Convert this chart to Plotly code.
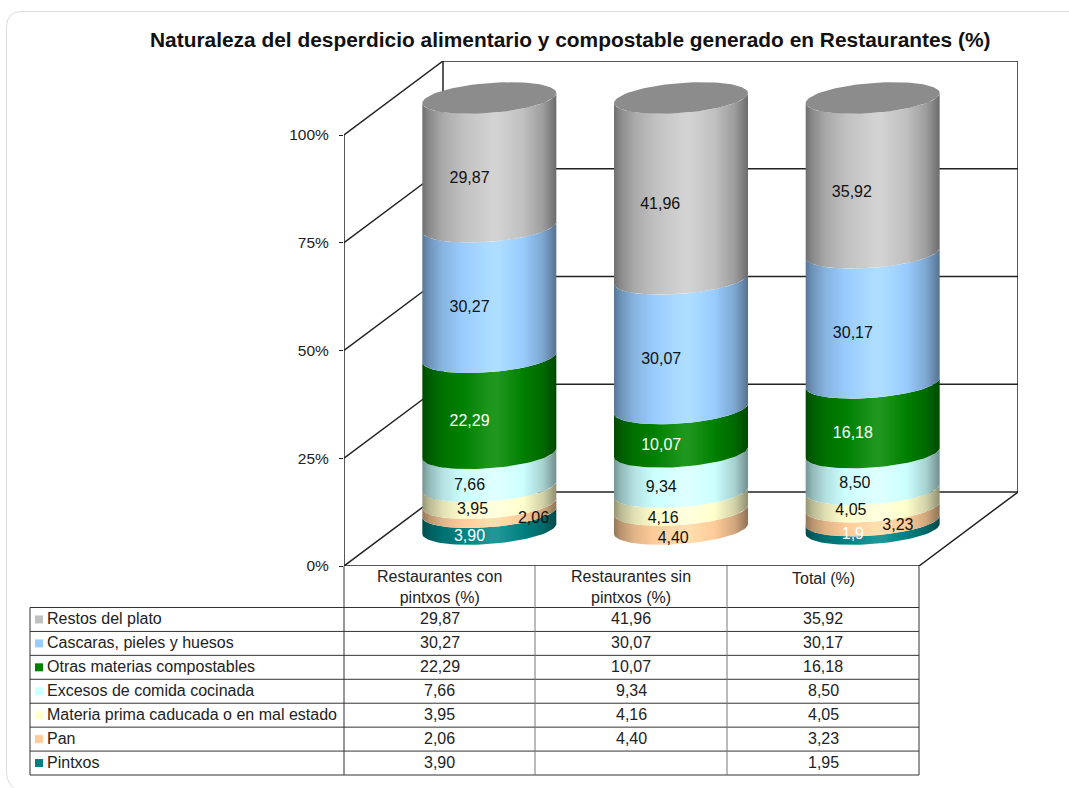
import math
import plotly.graph_objects as go

# ---------- data ----------
columns = ["Restaurantes con<br>pintxos (%)", "Restaurantes sin<br>pintxos (%)", "Total (%)"]
series_names = ["Pintxos", "Pan", "Materia prima caducada o en mal estado",
                "Excesos de comida cocinada", "Otras materias compostables",
                "Cascaras, pieles y huesos", "Restos del plato"]
pintxos = [3.90, 0, 1.95]
pan = [2.06, 4.40, 3.23]
materia = [3.95, 4.16, 4.05]
excesos = [7.66, 9.34, 8.50]
otras = [22.29, 10.07, 16.18]
cascaras = [30.27, 30.07, 30.17]
restos = [29.87, 41.96, 35.92]
series_values = [pintxos, pan, materia, excesos, otras, cascaras, restos]
series_colors = ["#008080", "#FFCC99", "#FFFFCC", "#CCFFFF", "#008000", "#99CCFF", "#C0C0C0"]
label_colors = ["white", "#111", "#111", "#111", "white", "#111", "#111"]
tick_vals = [0, 25, 50, 75, 100]
tick_text = ["0%", "25%", "50%", "75%", "100%"]
title = "Naturaleza del desperdicio alimentario y compostable generado en Restaurantes (%)"

# ---------- layout geometry (pixels of the 1069x788 page) ----------
W, H = 1069, 788
PX0, PY0, PY100 = 344, 566, 135         # front-left axis
COLW = 191.67                           # width of a category
DX, DY = 99, 74                         # depth offset of back wall
CYL_A, CYL_B, CYL_S = 67, 15, 5         # ellipse half-width, half-height, skew
UY = (PY0 - PY100) / 100                # px per percent
X_MAX = (3 * COLW + DX) / COLW
Y_MAX = (PY0 - (PY100 - DY)) / UY
ddx, ddy = DX / COLW, DY / UY
FONT = "Liberation Sans, Arial, sans-serif"
TXT = "#222"

fig = go.Figure()


def line(xs, ys, color="#222", width=1.5):
    fig.add_trace(go.Scatter(x=xs, y=ys, mode="lines", line=dict(color=color, width=width),
                             hoverinfo="skip", showlegend=False))


# walls
for v in tick_vals:
    line([0, ddx], [v, v + ddy])                 # left wall diagonals
    line([ddx, 3 + ddx], [v + ddy, v + ddy])     # back wall horizontals
line([0, 0], [0, 100])
line([ddx, ddx], [ddy, 100 + ddy])
line([3 + ddx, 3 + ddx], [ddy, 100 + ddy])
line([0, 3], [0, 0])
line([3, 3 + ddx], [0, ddy])


def shade(hex_color, k):
    rgb = [int(hex_color[i:i + 2], 16) for i in (1, 3, 5)]
    if k <= 1:
        out = [c * k for c in rgb]
    else:
        out = [c + (255 - c) * (k - 1) * 0.55 + 18 * (k - 1) / 0.15 for c in rgb]
    return "rgb(%d,%d,%d)" % tuple(min(255, round(c)) for c in out)


STOPS = [(0, .58), (.05, .72), (.15, .88), (.3, 1.0), (.52, 1.12), (.56, 1.12), (.75, 1.0), (.9, .82), (1, .56)]


def arc(cx, level, n=48):
    xs, ys = [], []
    for i in range(n + 1):
        t = math.pi + math.pi * i / n
        xs.append(cx + CYL_A / COLW * math.cos(t))
        ys.append(level + ddy / 2 + CYL_B / UY * math.sin(t) + CYL_S / UY * math.cos(t))
    return xs, ys


for col in range(3):
    cx = col + 0.5 + ddx / 2
    level = 0.0
    for s, vals in enumerate(series_values):
        v = vals[col]
        if v <= 0:
            continue
        xa, ya = arc(cx, level)
        xb, yb = arc(cx, level + v)
        fig.add_trace(go.Scatter(
            x=xa + xb[::-1] + xa[:1], y=ya + yb[::-1] + ya[:1], mode="lines", fill="toself",
            line=dict(width=0, color=series_colors[s]),
            fillgradient=dict(type="horizontal",
                              colorscale=[[p, shade(series_colors[s], k)] for p, k in STOPS]),
            hoverinfo="skip", showlegend=False))
        level += v
    # top cap
    xa, ya = arc(cx, 100)
    xb = [2 * cx - x for x in xa]
    yb = [2 * (100 + ddy / 2) - y for y in ya]
    fig.add_trace(go.Scatter(x=xa + xb + xa[:1], y=ya + yb + ya[:1], mode="lines", fill="toself",
                             fillcolor="#8C8C8C", line=dict(width=0, color="#8C8C8C"),
                             hoverinfo="skip", showlegend=False))

# value labels on the cylinders (label depth 0.3 of the floor, mid segment)
label_text = {(0, 2): "1,9"}
LABEL_DY = 1.5
label_nudge = {(1, 0): (64, -5), (2, 0): (3, -1.5), (1, 1): (12, 3), (2, 1): (2, 1.5), (1, 2): (45, -4),
               (3, 2): (2, -3.5), (2, 2): (-2, -3), (0, 2): (0, -6), (6, 2): (-1, 1), (6, 1): (-1, 0)}
for s, vals in enumerate(series_values):
    xs, ys, ts = [], [], []
    for col, v in enumerate(vals):
        if v <= 0:
            continue
        base = sum(series_values[k][col] for k in range(s))
        nx, ny = label_nudge.get((s, col), (0, 0))
        xs.append(col + 0.5 + 0.3 * ddx + nx / COLW)
        ys.append(base + v / 2 + 0.3 * ddy - (ny + LABEL_DY) / UY)
        ts.append(label_text.get((s, col), f"{v:.2f}".replace(".", ",")))
    fig.add_trace(go.Scatter(x=xs, y=ys, text=ts, mode="text", hoverinfo="skip", showlegend=False,
                             textfont=dict(family=FONT, size=16, color=label_colors[s])))


# ---------- table (paper coordinates) ----------
def px(x):
    return x / W


def py(y):
    return 1 - y / H


shapes, annots = [], []


def seg(x0, y0, x1, y1, color="#333", width=1):
    shapes.append(dict(type="line", xref="paper", yref="paper", x0=px(x0), y0=py(y0), x1=px(x1), y1=py(y1),
                       line=dict(color=color, width=width)))


def text(x, y, t, anchor="center", size=16, color=TXT, bold=False):
    annots.append(dict(xref="paper", yref="paper", x=px(x), y=py(y), text=f"<b>{t}</b>" if bold else t,
                       showarrow=False, xanchor=anchor, yanchor="middle", align="center",
                       font=dict(family=FONT, size=size, color=color)))


TX = [30, 344, 535, 727, 919]
TY0 = 607.5
ROW = (775 - TY0) / 7
for i in range(8):
    seg(TX[0], TY0 + i * ROW, TX[4], TY0 + i * ROW)
for i, x in enumerate(TX):
    seg(x, PY0 if i > 0 else TY0, x, TY0 + 7 * ROW, color="#333" if i in (0, 1, 4) else "#777")
for j, name in enumerate(columns):
    cxm = (TX[j + 1] + TX[j + 2]) / 2
    text(cxm, 587 if "<br>" in name else 578, name)
for i in range(7):
    s = 6 - i
    yc = TY0 + (i + 0.5) * ROW
    shapes.append(dict(type="rect", xref="paper", yref="paper", x0=px(35), x1=px(43), y0=py(yc - 4), y1=py(yc + 4),
                       fillcolor=series_colors[s], line=dict(width=0)))
    text(44.5, yc - 0.5, series_names[s], anchor="left")
    for col in range(3):
        v = series_values[s][col]
        if v > 0:
            text((TX[col + 1] + TX[col + 2]) / 2, yc - 0.5, f"{v:.2f}".replace(".", ","))
text(570, 39, title, size=20.9, color="#111", bold=True)

# page frame: top and left edges only, bottom-left corner runs off the page
shapes.append(dict(type="path", xref="paper", yref="paper", layer="below",
                   path=f"M {px(1075)} {py(11.5)} L {px(22)} {py(11.5)} Q {px(6.5)} {py(11.5)} {px(6.5)} {py(27)} "
                        f"L {px(6.5)} {py(772)} Q {px(6.5)} {py(786)} {px(20)} {py(792)}",
                   line=dict(color="#DDDDDD", width=1)))

fig.update_layout(
    width=W, height=H, autosize=False, margin=dict(l=0, r=0, t=0, b=0, autoexpand=False),
    paper_bgcolor="white", plot_bgcolor="rgba(0,0,0,0)", showlegend=False,
    shapes=shapes, annotations=annots,
    xaxis=dict(domain=[PX0 / W, (PX0 + 3 * COLW + DX) / W], range=[0, X_MAX], visible=False),
    yaxis=dict(domain=[1 - PY0 / H, 1 - (PY100 - DY) / H], range=[0, Y_MAX], tickmode="array",
               tickvals=tick_vals, ticktext=tick_text, ticks="outside", ticklen=4, tickwidth=1, tickcolor="#222",
               ticklabelstandoff=7, showgrid=False, zeroline=False, showline=False,
               tickfont=dict(family=FONT, size=15.5, color=TXT)),
)
fig.write_html("out.html", config={"displayModeBar": False},
               post_script="document.body.style.margin='0';document.documentElement.style.overflow='hidden';")
